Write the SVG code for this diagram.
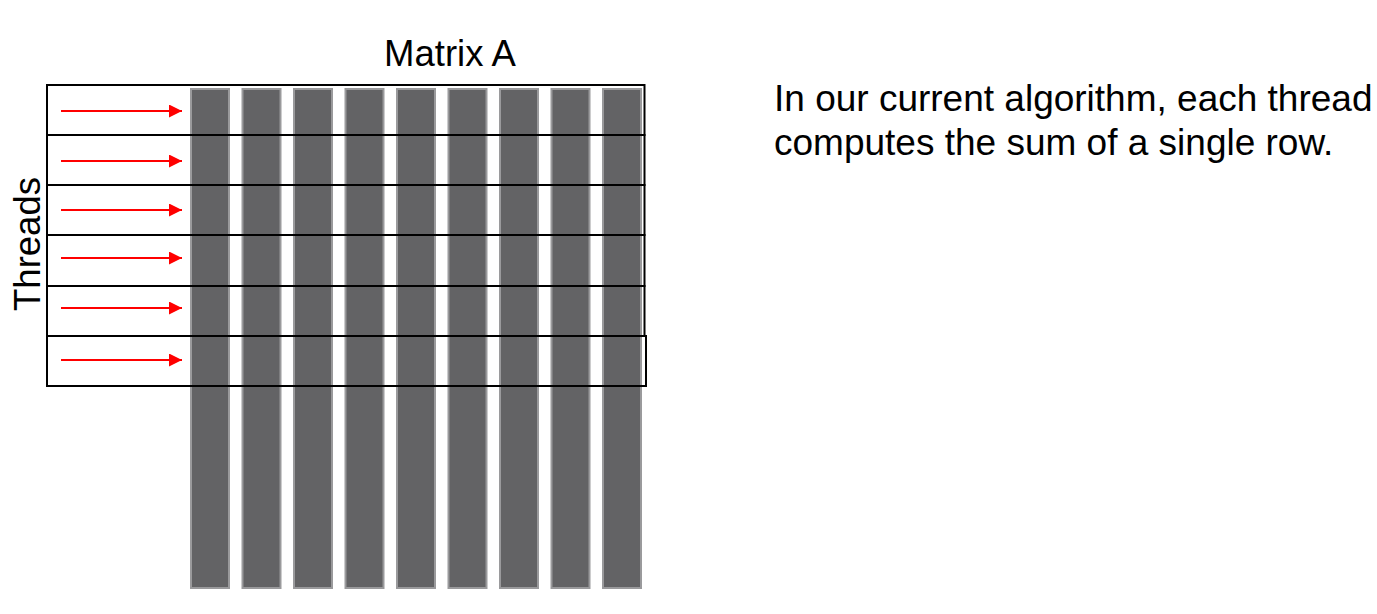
<svg xmlns="http://www.w3.org/2000/svg" width="1377" height="614" viewBox="0 0 1377 614">
<defs>
<style>
.col{fill:#636365;stroke:#9a9a9c;stroke-width:2}
.row{fill:none;stroke:#000;stroke-width:2}
.arr{stroke:#ff0000;stroke-width:1.8;fill:none}
.t{font-family:"Liberation Sans",Arial,sans-serif;font-size:36.5px;fill:#000}
.n{font-size:37px}
</style>
<marker id="ah" markerUnits="userSpaceOnUse" markerWidth="14" markerHeight="14" refX="13" refY="6.5" orient="auto">
<path d="M0,0 L13,6.5 L0,13 Z" fill="#ff0000"/>
</marker>
</defs>
<rect width="1377" height="614" fill="#fff"/>
<g id="matrix">
<rect class="col" x="191" y="89" width="38" height="499"/>
<rect class="col" x="242.5" y="89" width="38" height="499"/>
<rect class="col" x="294" y="89" width="38" height="499"/>
<rect class="col" x="345.5" y="89" width="38" height="499"/>
<rect class="col" x="397" y="89" width="38" height="499"/>
<rect class="col" x="448.5" y="89" width="38" height="499"/>
<rect class="col" x="500" y="89" width="38" height="499"/>
<rect class="col" x="551.5" y="89" width="38" height="499"/>
<rect class="col" x="603" y="89" width="38" height="499"/>
</g>
<g id="rows">
<rect class="row" x="47" y="85" width="597.5" height="50"/>
<rect class="row" x="47" y="135" width="597.5" height="50"/>
<rect class="row" x="47" y="185" width="597.5" height="50"/>
<rect class="row" x="47" y="235" width="597.5" height="51"/>
<rect class="row" x="47" y="286" width="597.5" height="50"/>
<rect class="row" x="47" y="336" width="599" height="50"/>
</g>
<g id="connectors">
<line class="arr" x1="61" y1="111" x2="182" y2="111" marker-end="url(#ah)"/>
<line class="arr" x1="61" y1="161" x2="182" y2="161" marker-end="url(#ah)"/>
<line class="arr" x1="61" y1="210" x2="182" y2="210" marker-end="url(#ah)"/>
<line class="arr" x1="61" y1="258" x2="182" y2="258" marker-end="url(#ah)"/>
<line class="arr" x1="61" y1="308" x2="182" y2="308" marker-end="url(#ah)"/>
<line class="arr" x1="61" y1="360" x2="182" y2="360" marker-end="url(#ah)"/>
</g>
<g id="title"><text class="t" x="450" y="66" text-anchor="middle">Matrix A</text></g>
<g id="threads-label"><text class="t" transform="translate(40,244) rotate(-90)" text-anchor="middle">Threads</text></g>
<g id="note">
<text class="t n" x="774" y="111">In our current algorithm, each thread</text>
<text class="t n" x="774" y="155">computes the sum of a single row.</text>
</g>
</svg>
